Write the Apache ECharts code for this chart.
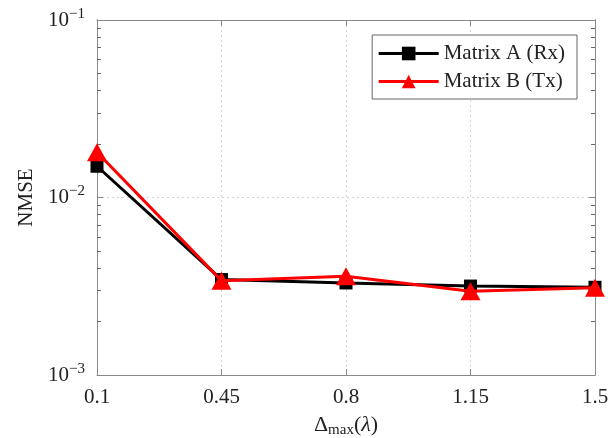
<!DOCTYPE html>
<html><head><meta charset="utf-8">
<script src="https://cdn.jsdelivr.net/npm/echarts@6/dist/echarts.min.js"></script>
<style>html,body{margin:0;padding:0;background:#fff}#c{width:610px;height:438px}</style>
</head><body><div id="c"></div>
<script>
var categories = ['0.1', '0.45', '0.8', '1.15', '1.5'];
var matrixA = [0.0150, 0.00345, 0.0033, 0.00317, 0.00312];
var matrixB = [0.0180, 0.0034, 0.0036, 0.00296, 0.0031];
var yMin = 0.001, yMax = 0.1;
var minorTickValues = [0.002,0.003,0.004,0.005,0.006,0.007,0.008,0.009,0.02,0.03,0.04,0.05,0.06,0.07,0.08,0.09];

var FONT = 'Liberation Serif';
var axisGray = '#888888';
var chart = echarts.init(document.getElementById('c'), null, {renderer: 'canvas'});
var richY = {
  b: {fontFamily: FONT, fontSize: 21, color: '#222'},
  sup: {fontFamily: FONT, fontSize: 15, color: '#222', verticalAlign: 'bottom', padding: [0,0,12,0]}
};
function logLabel(v) {
  var e = Math.round(Math.log10(v));
  return '{b|10}{sup|' + (e < 0 ? '\u2212' + (-e) : e) + '}';
}
var minorLog = minorTickValues.map(function (v) { return Math.log10(v); });
function minorAxis(pos) {
  return {
    type: 'value', min: Math.log10(yMin), max: Math.log10(yMax), position: pos,
    axisLine: {show: true, lineStyle: {color: axisGray, width: 1}},
    axisTick: {show: true, inside: true, length: 4, lineStyle: {color: '#666', width: 1}, customValues: minorLog},
    axisLabel: {show: false},
    splitLine: {show: false}
  };
}
var option = {
  animation: false,
  backgroundColor: '#fff',
  grid: {left: 97, right: 15, top: 20, bottom: 63, containLabel: false, outerBoundsMode: 'none'},
  legend: {
    right: 33, top: 35, orient: 'vertical',
    backgroundColor: '#fff', borderColor: '#666', borderWidth: 1,
    padding: [8, 12, 7, 5], itemGap: 7, itemWidth: 60, itemHeight: 17,
    textStyle: {fontFamily: FONT, fontSize: 21, color: '#222'},
    lineStyle: {width: 3},
    data: ['Matrix A (Rx)', 'Matrix B (Tx)']
  },
  xAxis: [{
    type: 'category', data: categories, boundaryGap: false,
    axisLine: {lineStyle: {color: axisGray, width: 1}},
    axisTick: {inside: true, length: 6, alignWithLabel: true, lineStyle: {color: axisGray}},
    axisLabel: {fontFamily: FONT, fontSize: 21, color: '#222', margin: 12},
    splitLine: {show: true, lineStyle: {color: '#d4d4d4', type: [2, 3], width: 1}},
    name: '{d|\u0394}{s|max}{d|(}{i|\u03bb}{d|)}',
    nameLocation: 'middle', nameGap: 38,
    nameTextStyle: {rich: {
      d: {fontFamily: FONT, fontSize: 22, color: '#222'},
      s: {fontFamily: FONT, fontSize: 15, color: '#222', verticalAlign: 'top', padding: [10,0,0,0]},
      i: {fontFamily: FONT, fontSize: 22, color: '#222', fontStyle: 'italic'}
    }}
  }, {
    type: 'category', data: categories, boundaryGap: false, position: 'top',
    axisLine: {lineStyle: {color: axisGray, width: 1}},
    axisTick: {inside: true, length: 6, alignWithLabel: true, lineStyle: {color: axisGray}},
    axisLabel: {show: false}, splitLine: {show: false}
  }],
  yAxis: [{
    type: 'log', logBase: 10, min: yMin, max: yMax, position: 'left',
    axisLine: {show: true, lineStyle: {color: axisGray, width: 1}},
    axisTick: {show: true, inside: true, length: 6, lineStyle: {color: axisGray}},
    axisLabel: {formatter: logLabel, margin: 12, rich: richY},
    splitLine: {show: true, lineStyle: {color: '#d4d4d4', type: [2, 3], width: 1}},
    name: 'NMSE', nameLocation: 'middle', nameGap: 60, nameRotate: 90,
    nameTextStyle: {fontFamily: FONT, fontSize: 21, color: '#222'}
  }, {
    type: 'log', logBase: 10, min: yMin, max: yMax, position: 'right',
    axisLine: {show: true, lineStyle: {color: axisGray, width: 1}},
    axisTick: {show: true, inside: true, length: 6, lineStyle: {color: axisGray}},
    axisLabel: {show: false}, splitLine: {show: false}
  }, minorAxis('left'), minorAxis('right')],
  series: [{
    name: 'Matrix A (Rx)', type: 'line', data: matrixA, yAxisIndex: 0,
    symbol: 'rect', symbolSize: 13, color: '#000000',
    lineStyle: {width: 3, color: '#000000'}, itemStyle: {color: '#000000'}, z: 2
  }, {
    name: 'Matrix B (Tx)', type: 'line', data: matrixB, yAxisIndex: 0,
    symbol: 'triangle', symbolSize: [20, 18], color: '#ff0000',
    lineStyle: {width: 3, color: '#ff0000'}, itemStyle: {color: '#ff0000'}, z: 3
  }]
};
chart.setOption(option);
</script></body></html>
